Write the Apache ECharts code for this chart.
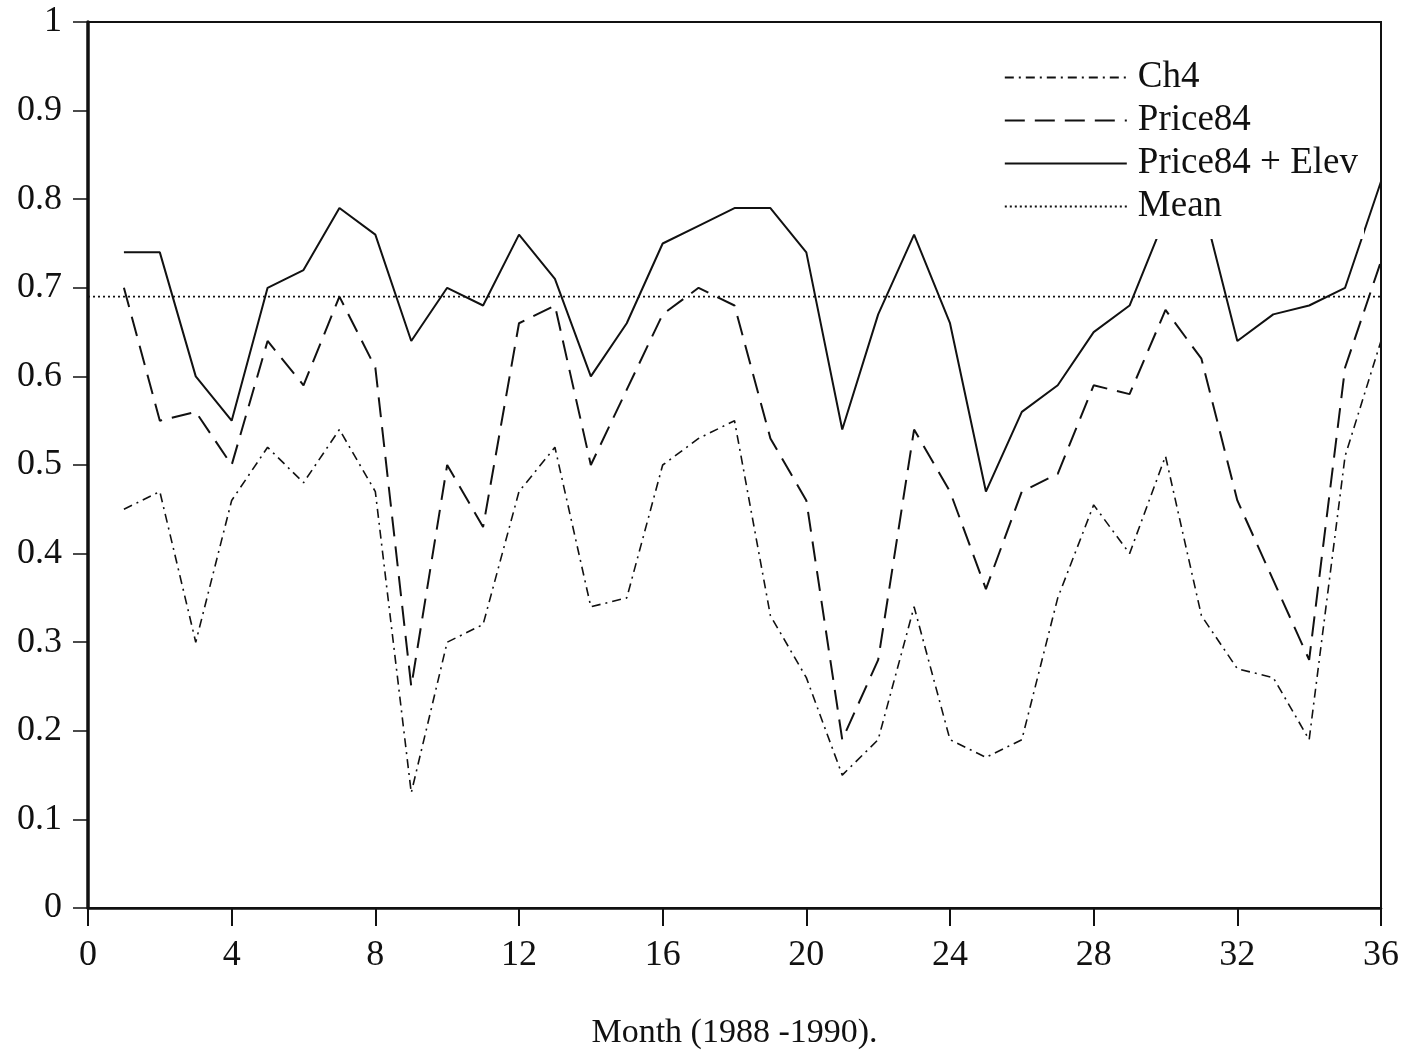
<!DOCTYPE html>
<html lang="en">
<head>
	<meta charset="UTF-8">
	<title>Month (1988 -1990)</title>
	<script src="https://cdn.jsdelivr.net/npm/echarts@6/dist/echarts.min.js"></script>
	<style>
		html, body { margin: 0; padding: 0; background: #fff; }
	</style>
</head>
<body>
	<div id="chart-wrap" style="width: 1410px; height: 1054px;"></div>

	<script>
		// months 1..36
		var months = [1,2,3,4,5,6,7,8,9,10,11,12,13,14,15,16,17,18,19,20,21,22,23,24,25,26,27,28,29,30,31,32,33,34,35,36];
		var ch4 = [0.45,0.47,0.30,0.46,0.52,0.48,0.54,0.47,0.13,0.30,0.32,0.47,0.52,0.34,0.35,0.50,0.53,0.55,0.33,0.26,0.15,0.19,0.34,0.19,0.17,0.19,0.35,0.455,0.40,0.51,0.33,0.27,0.26,0.19,0.51,0.64];
		var price84 = [0.70,0.55,0.56,0.50,0.64,0.59,0.69,0.61,0.25,0.50,0.43,0.66,0.68,0.50,0.585,0.67,0.70,0.68,0.53,0.46,0.19,0.28,0.54,0.47,0.36,0.47,0.49,0.59,0.58,0.675,0.62,0.46,0.37,0.28,0.61,0.73];
		var price84Elev = [0.74,0.74,0.60,0.55,0.70,0.72,0.79,0.76,0.64,0.70,0.68,0.76,0.71,0.60,0.66,0.75,0.77,0.79,0.79,0.74,0.54,0.67,0.76,0.66,0.47,0.56,0.59,0.65,0.68,0.78,0.80,0.64,0.67,0.68,0.70,0.82];
		var meanX = [0, 36];
		var meanY = [0.69, 0.69];
		var xTicks = [0,4,8,12,16,20,24,28,32,36];

		function pairs(xs, ys) {
			return xs.map(function (x, i) { return [x, ys[i]]; });
		}

		var font = 'Liberation Serif';
		var ink = '#111';

		var myChart = echarts.init(document.querySelector('#chart-wrap'));
		var option = {
			backgroundColor: '#fff',
			animation: false,
			grid: {
				left: 88, right: 29, top: 22, bottom: 146,
				outerBoundsMode: 'none',
				containLabel: false,
				show: true, borderColor: ink, borderWidth: 2
			},
			legend: {
				orient: 'vertical',
				right: 46, top: 55,
				itemWidth: 122, itemHeight: 10, itemGap: 6,
				backgroundColor: '#fff',
				padding: [4, 6, 14, 8],
				itemStyle: { opacity: 0 },
				textStyle: { fontFamily: font, fontSize: 37, color: ink, padding: [0, 0, 0, 6] },
				data: ['Ch4', 'Price84', 'Price84 + Elev', 'Mean']
			},
			xAxis: {
				type: 'value', min: 0, max: 36, interval: 4,
				name: 'Month (1988 -1990).',
				nameLocation: 'middle', nameGap: 108,
				nameTextStyle: { fontFamily: font, fontSize: 34, color: ink },
				axisLine: { lineStyle: { color: ink, width: 2.5 } },
				axisTick: { inside: false, length: 18, lineStyle: { color: ink, width: 2 } },
				axisLabel: {
					fontFamily: font, fontSize: 36, color: ink, margin: 30,
					customValues: xTicks
				},
				splitLine: { show: false }
			},
			yAxis: {
				type: 'value', min: 0, max: 1, interval: 0.1,
				axisLine: { lineStyle: { color: ink, width: 3.5 } },
				axisTick: { length: 15, lineStyle: { color: ink, width: 1.5 } },
				axisLabel: { fontFamily: font, fontSize: 36, color: ink, margin: 26 },
				splitLine: { show: false }
			},
			series: [
				{
					name: 'Ch4', type: 'line', symbol: 'none',
					data: pairs(months, ch4),
					lineStyle: { color: ink, width: 1.6, type: [9, 5, 2, 5] },
					itemStyle: { color: ink }
				},
				{
					name: 'Price84', type: 'line', symbol: 'none',
					data: pairs(months, price84),
					lineStyle: { color: ink, width: 2, type: [20, 10] },
					itemStyle: { color: ink }
				},
				{
					name: 'Price84 + Elev', type: 'line', symbol: 'none',
					data: pairs(months, price84Elev),
					lineStyle: { color: ink, width: 2, type: 'solid' },
					itemStyle: { color: ink }
				},
				{
					name: 'Mean', type: 'line', symbol: 'none',
					data: pairs(meanX, meanY),
					lineStyle: { color: ink, width: 1.6, type: [2, 3] },
					itemStyle: { color: ink }
				}
			]
		};
		myChart.setOption(option);
	</script>
</body>
</html>
